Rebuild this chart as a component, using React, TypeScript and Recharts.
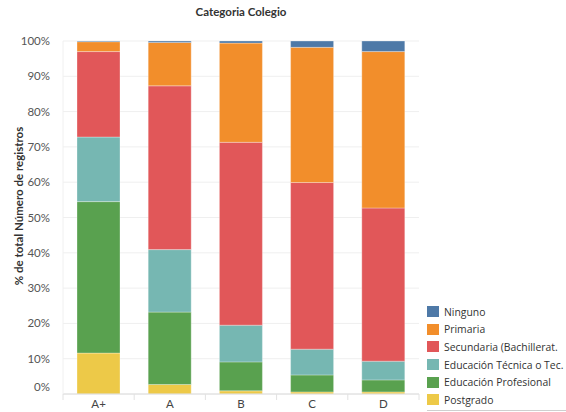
import { BarChart, Bar, XAxis, YAxis, CartesianGrid, Label } from 'recharts'

const categories = ['A+', 'A', 'B', 'C', 'D']

// % del total por categoría (de abajo hacia arriba en la pila)
const postgrado = [11.6, 2.7, 0.9, 0.6, 0.6]
const profesional = [42.9, 20.5, 8.2, 4.8, 3.4]
const tecnica = [18.3, 17.7, 10.4, 7.3, 5.3]
const secundaria = [24.2, 46.4, 51.8, 47.2, 43.4]
const primaria = [2.8, 12.3, 28.1, 38.3, 44.3]
const ninguno = [0.2, 0.4, 0.6, 1.8, 3.0]

const yTicks = [0, 10, 20, 30, 40, 50, 60, 70, 80, 90, 100]

const SERIES = [
  { key: 'postgrado', name: 'Postgrado', color: '#edc948', values: postgrado },
  { key: 'profesional', name: 'Educación Profesional', color: '#59a14f', values: profesional },
  { key: 'tecnica', name: 'Educación Técnica o Tec.', color: '#76b7b2', values: tecnica },
  { key: 'secundaria', name: 'Secundaria (Bachillerat.', color: '#e15759', values: secundaria },
  { key: 'primaria', name: 'Primaria', color: '#f28e2b', values: primaria },
  { key: 'ninguno', name: 'Ninguno', color: '#4e79a7', values: ninguno },
]

const FONT = 'Lato, "Open Sans", sans-serif'

const data = categories.map((cat, i) => {
  const row: any = { cat }
  SERIES.forEach((s) => (row[s.key] = s.values[i]))
  return row
})

const YTick = ({ x, y, payload }: any) => {
  // tableau sube la etiqueta del borde inferior
  const dy = payload.value === 0 ? -7 : 0
  return (
    <text x={x - 5} y={y + dy} dy={4} textAnchor="end" fontSize={11.5} fill="#555" fontFamily={FONT}>
      {payload.value}%
    </text>
  )
}

const XTick = ({ x, y, payload, index }: any) => {
  const off = payload.offset || 0
  return (
    <g>
      <line x1={x - off} x2={x - off} y1={y - 8} y2={y - 2} stroke="#e2e2e2" />
      {index === categories.length - 1 && (
        <line x1={x + off} x2={x + off} y1={y - 8} y2={y - 2} stroke="#e2e2e2" />
      )}
      <text x={x} y={y + 6} textAnchor="middle" fontSize={11.5} fill="#444" fontFamily={FONT}>
        {payload.value}
      </text>
    </g>
  )
}

const LegendBox = () => {
  const items = [...SERIES].reverse()
  return (
    <div
      style={{
        position: 'absolute', left: 427, top: 303, width: 139,
        fontFamily: '"Open Sans", sans-serif', fontSize: 10.4, color: '#333',
        borderBottom: '1px solid #cfcfcf', paddingBottom: 1,
      }}
    >
      {items.map((s) => (
        <div key={s.key} style={{ display: 'flex', alignItems: 'center', height: 17.6, whiteSpace: 'nowrap' }}>
          <span style={{ display: 'inline-block', width: 12, height: 11, background: s.color, marginRight: 5, flex: 'none' }} />
          <span>{s.name}</span>
        </div>
      ))}
    </div>
  )
}

export default function App() {
  return (
    <div style={{ position: 'absolute', left: 0, top: 0, width: 566, height: 412, background: '#fff', overflow: 'hidden' }}>
      <div
        style={{
          position: 'absolute', left: 63, width: 356, top: 5, textAlign: 'center',
          fontFamily: FONT, fontWeight: 700, fontSize: 11.5, color: '#333',
        }}
      >
        Categoria Colegio
      </div>
      <BarChart
        width={566}
        height={412}
        data={data}
        margin={{ top: 41, right: 147, bottom: 0, left: 0 }}
        barSize={43}
      >
        <CartesianGrid horizontal vertical={false} stroke="#efefef" />
        <XAxis
          dataKey="cat"
          tick={<XTick />}
          tickLine={false}
          axisLine={{ stroke: '#dcdcdc' }}
          height={18}
          interval={0}
        />
        <YAxis
          type="number"
          domain={[0, 100]}
          ticks={yTicks}
          tick={<YTick />}
          tickLine={false}
          axisLine={{ stroke: '#f0f0f0' }}
          width={63}
          interval={0}
        >
          <Label
            content={() => (
              <text
                x={18}
                y={206}
                transform="rotate(-90 18 206)"
                textAnchor="middle"
                dominantBaseline="central"
                fontSize={11.5}
                fontWeight={700}
                fill="#333"
                fontFamily={FONT}
              >
                % de total Número de registros
              </text>
            )}
          />
        </YAxis>
        {SERIES.map((s) => (
          <Bar
            key={s.key}
            dataKey={s.key}
            name={s.name}
            stackId="a"
            fill={s.color}
            stroke="#ffffff"
            strokeOpacity={0.3}
            strokeWidth={1}
            isAnimationActive={false}
          />
        ))}
      </BarChart>
      <LegendBox />
    </div>
  )
}
